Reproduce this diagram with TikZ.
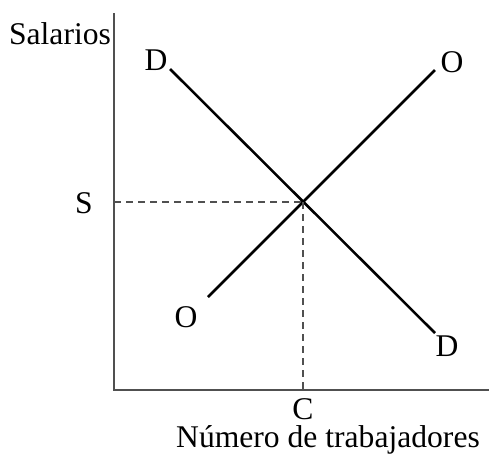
\documentclass[tikz,border=0pt]{standalone}
\usepackage{fontspec}
\setmainfont{Liberation Serif}
\tikzset{every picture/.style={line width=0.75pt}}
\tikzset{
  lbl/.style={anchor=base,inner sep=0pt,font=\fontsize{23.7}{28}\selectfont},
  axis/.style={draw={rgb,255:red,80;green,80;blue,80},line width=1.1pt},
  curve/.style={draw=black,line width=1.9pt},
  guide/.style={draw={rgb,255:red,80;green,80;blue,80},line width=1.1pt,dash pattern={on 5.5pt off 3.5pt}}
}
\begin{document}
\begin{tikzpicture}[x=0.75pt,y=0.75pt,yscale=-1,xscale=1]
\useasboundingbox (0,0) rectangle (489,462);

% axes
\coordinate (top) at (114,13);
\coordinate (orig) at (114,390);
\coordinate (right) at (489,390);
\draw [axis] (top) -- (orig) -- (right);

% demand and supply
\coordinate (dA) at (170,69);
\coordinate (dB) at (435,333);
\coordinate (oA) at (208,297);
\coordinate (oB) at (435,70);
\coordinate (eq) at (303,202);
\draw [curve] (dA) -- (dB);
\draw [curve] (oA) -- (oB);

% guides
\coordinate (sAx) at (114,202);
\coordinate (cAx) at (303,390);
\draw [guide] (sAx) -- (eq);
\draw [guide] (eq) -- (cAx);

% Text Node
\node [lbl] (salarios) at (60,44.5) {Salarios};
\node [lbl] (dtop) at (156,70) {D};
\node [lbl] (otop) at (452,72.5) {O};
\node [lbl] (slbl) at (84,213) {S};
\node [lbl] (olow) at (186,327.5) {O};
\node [lbl] (dlow) at (447,356.5) {D};
\node [lbl] (clbl) at (303,419.5) {C};
\node [lbl] (numero) at (328,447.5) {Número de trabajadores};
\end{tikzpicture}
\end{document}
